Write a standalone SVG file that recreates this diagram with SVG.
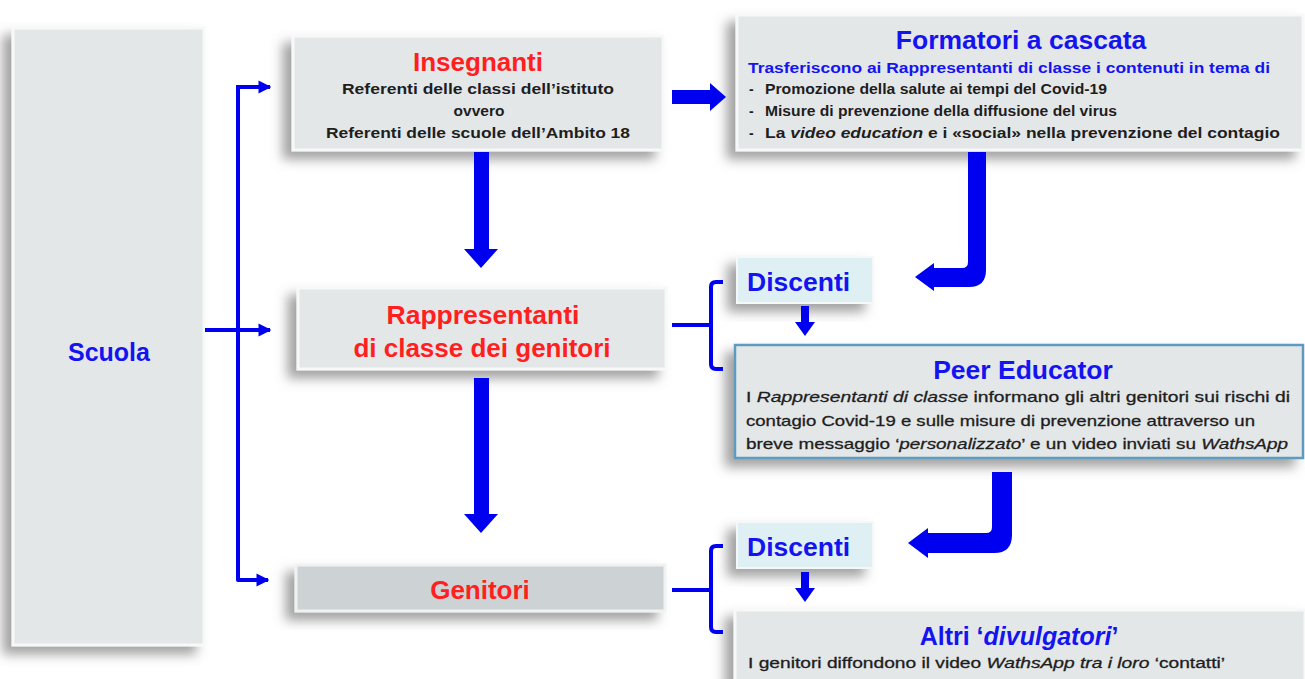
<svg xmlns="http://www.w3.org/2000/svg" width="1305" height="679" viewBox="0 0 1305 679">
<defs>
<filter id="sh" x="-20%" y="-30%" width="140%" height="170%">
<feDropShadow dx="-9" dy="8" stdDeviation="6" flood-color="#666" flood-opacity="0.6"/>
</filter>
<marker id="ah" viewBox="0 0 10 10" refX="9" refY="5" markerWidth="3.2" markerHeight="3.6" orient="auto" markerUnits="strokeWidth">
<path d="M0,0 L10,5 L0,10 Z" fill="#0000f0"/>
</marker>
</defs>
<style>
text{font-family:"Liberation Sans",Arial,sans-serif;font-weight:bold}
.box{fill:#e4e7e8;stroke:#f7f8f8;stroke-width:3}
.red{fill:#ff1f1f}
.blue{fill:#1414f0}
.body{fill:#1e1e1e;font-size:14px}
.reg{fill:#1e1e1e;font-weight:normal;stroke:#1e1e1e;stroke-width:0.3}
.thin{fill:none;stroke:#0000f0;stroke-width:4;stroke-linejoin:round;stroke-linecap:butt}
.thick{fill:#0000f0}
.it{font-style:italic}
</style>

<g id="scuola">
<rect x="13" y="28" width="191" height="617" class="box" filter="url(#sh)"/>
<text x="109" y="361" font-size="25" text-anchor="middle" class="blue">Scuola</text>
</g>

<g id="insegnanti">
<rect x="293" y="36" width="370" height="114" class="box" filter="url(#sh)"/>
<text x="478" y="71" font-size="26" text-anchor="middle" class="red">Insegnanti</text>
<text x="478" y="94" text-anchor="middle" class="body" textLength="272" lengthAdjust="spacingAndGlyphs">Referenti delle classi dell’istituto</text>
<text x="479" y="116" text-anchor="middle" class="body" style="font-size:15.5px">ovvero</text>
<text x="478" y="138" text-anchor="middle" class="body" textLength="304" lengthAdjust="spacingAndGlyphs">Referenti delle scuole dell’Ambito 18</text>
</g>

<g id="formatori">
<rect x="737" y="15" width="566" height="135" class="box" filter="url(#sh)"/>
<text x="1021" y="49" font-size="26.5" text-anchor="middle" class="blue">Formatori a cascata</text>
<text x="748" y="73" font-size="14.5" class="blue" textLength="522" lengthAdjust="spacingAndGlyphs">Trasferiscono ai Rappresentanti di classe i contenuti in tema di</text>
<text x="749" y="94" class="body">-</text>
<text x="765" y="94" class="body" textLength="342" lengthAdjust="spacingAndGlyphs">Promozione della salute ai tempi del Covid-19</text>
<text x="749" y="116" class="body">-</text>
<text x="765" y="116" class="body" textLength="352" lengthAdjust="spacingAndGlyphs">Misure di prevenzione della diffusione del virus</text>
<text x="749" y="138" class="body">-</text>
<text x="765" y="138" class="body" textLength="515" lengthAdjust="spacingAndGlyphs">La <tspan class="it">video education</tspan> e i «social» nella prevenzione del contagio</text>
</g>

<g id="rappresentanti">
<rect x="298" y="288" width="368" height="81" class="box" filter="url(#sh)"/>
<text x="483" y="324" font-size="26.5" text-anchor="middle" class="red">Rappresentanti</text>
<text x="482" y="357" font-size="26" text-anchor="middle" class="red">di classe dei genitori</text>
</g>

<g id="genitori">
<rect x="296" y="565" width="369" height="46" fill="#cdd2d4" stroke="#f0f2f2" stroke-width="3" filter="url(#sh)"/>
<text x="480" y="599" font-size="26" text-anchor="middle" class="red">Genitori</text>
</g>

<g id="discenti1">
<rect x="737" y="257" width="136" height="46" fill="#dff0f4" stroke="#f4f8f8" stroke-width="2" filter="url(#sh)"/>
<text x="747" y="291" font-size="26.5" class="blue">Discenti</text>
</g>

<g id="peer">
<rect x="735" y="345" width="568" height="113" fill="#e4e7e8" stroke="#5d9cc0" stroke-width="2.5" filter="url(#sh)"/>
<text x="1023" y="379" font-size="26.5" text-anchor="middle" class="blue">Peer Educator</text>
<text x="746" y="402" font-size="15" class="reg" textLength="544" lengthAdjust="spacingAndGlyphs">I <tspan class="it">Rappresentanti di classe</tspan>  informano gli altri genitori sui rischi di</text>
<text x="746" y="426" font-size="15" class="reg" textLength="509" lengthAdjust="spacingAndGlyphs">contagio Covid-19 e sulle misure di prevenzione attraverso un</text>
<text x="746" y="449" font-size="15" class="reg" textLength="542" lengthAdjust="spacingAndGlyphs">breve messaggio ‘<tspan class="it">personalizzato</tspan>’  e un video inviati su <tspan class="it">WathsApp</tspan></text>
</g>

<g id="discenti2">
<rect x="737" y="522" width="136" height="46" fill="#dff0f4" stroke="#f4f8f8" stroke-width="2" filter="url(#sh)"/>
<text x="747" y="556" font-size="26.5" class="blue">Discenti</text>
</g>

<g id="altri">
<rect x="735" y="610" width="570" height="75" class="box" filter="url(#sh)"/>
<text x="1019" y="645" font-size="25" text-anchor="middle" class="blue">Altri ‘<tspan class="it">divulgatori</tspan>’</text>
<text x="748" y="668" font-size="14" class="reg" textLength="477" lengthAdjust="spacingAndGlyphs">I genitori diffondono il video <tspan class="it">WathsApp tra i loro</tspan> ‘contatti’</text>
</g>

<g id="connectors">
<path class="thin" d="M238,87 L238,580 L268,580" marker-end="url(#ah)"/>
<path class="thin" d="M236,87 L270,87" marker-end="url(#ah)"/>
<path class="thin" d="M205,330 L270,330" marker-end="url(#ah)"/>
<polygon class="thick" points="672,90 710,90 710,83 726,97 710,111 710,104 672,104"/>
<polygon class="thick" points="474,152 489,152 489,249 498,249 481,268 464,249 474,249"/>
<polygon class="thick" points="474,378 489,378 489,514 498,514 481,533 464,514 474,514"/>
<path class="thick" d="M968,152 L986,152 L986,270 Q986,287 969,287 L934,287 L934,291 L915,277 L934,263 L934,268 L962,268 Q968,268 968,262 Z"/>
<path class="thick" d="M992,472 L1012,472 L1012,535 Q1012,553 994,553 L928,553 L928,558 L908,543 L928,528 L928,533 L986,533 Q992,533 992,527 Z"/>
<path class="thin" d="M672,325 L711,325"/>
<path class="thin" d="M723,282 L716,282 Q711,282 711,287 L711,364 Q711,369 716,369 L723,369"/>
<path class="thin" d="M672,590 L711,590"/>
<path class="thin" d="M723,546 L716,546 Q711,546 711,551 L711,627 Q711,632 716,632 L723,632"/>
<polygon class="thick" points="801,306 809,306 809,322 815,322 805,336 795,322 801,322"/>
<polygon class="thick" points="801,572 809,572 809,588 815,588 805,602 795,588 801,588"/>
</g>
</svg>
